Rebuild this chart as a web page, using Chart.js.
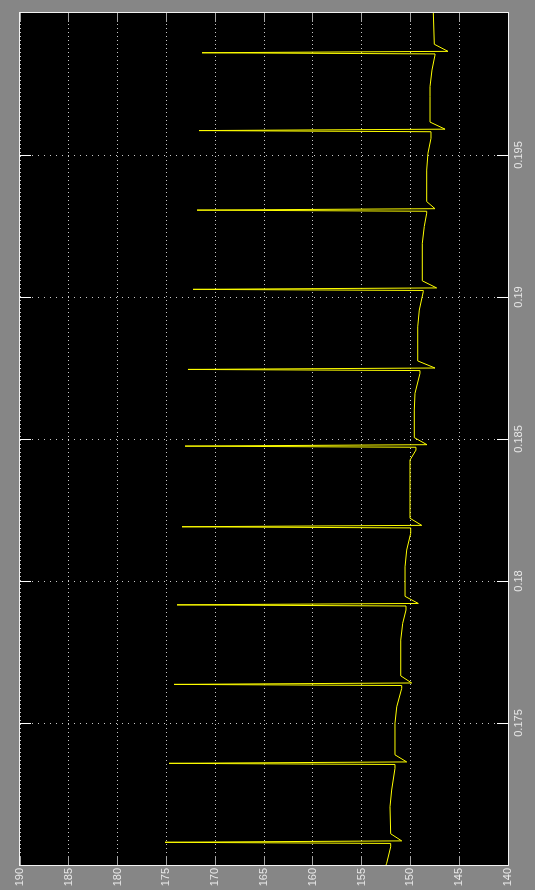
<!DOCTYPE html>
<html>
<head>
<meta charset="utf-8">
<script src="https://cdn.jsdelivr.net/npm/chart.js@4/dist/chart.umd.min.js"></script>
<style>
html,body{margin:0;padding:0;background:#868686;width:535px;height:890px;overflow:hidden}
#wrap{position:absolute;left:0;top:0;width:890px;height:535px;transform-origin:0 0;transform:translate(0,890px) rotate(-90deg)}
canvas{display:block}
</style>
</head>
<body>
<div id="wrap"><canvas id="c" width="890" height="535"></canvas></div>
<script>
// time (s) of each sample
const timeS = [
  0.17000, 0.17006, 0.17064,
  0.17076, 0.17080, 0.17085, 0.17110,
  0.17205, 0.17264, 0.17340,
  0.17354, 0.17358, 0.17363, 0.17388,
  0.17499, 0.17557, 0.17622,
  0.17632, 0.17636, 0.17641, 0.17666,
  0.17792, 0.17851, 0.17898,
  0.17912, 0.17916, 0.17921, 0.17946,
  0.18050, 0.18109, 0.18168,
  0.18187, 0.18191, 0.18196, 0.18221,
  0.18426, 0.18461,
  0.18471, 0.18475, 0.18480, 0.18505,
  0.18602, 0.18661, 0.18731,
  0.18741, 0.18745, 0.18750, 0.18775,
  0.18895, 0.18954, 0.19019,
  0.19023, 0.19027, 0.19032, 0.19057,
  0.19189, 0.19248, 0.19295,
  0.19302, 0.19306, 0.19311, 0.19336,
  0.19447, 0.19506, 0.19559,
  0.19582, 0.19586, 0.19591, 0.19616,
  0.19705, 0.19741, 0.19799, 0.19852,
  0.19856, 0.19860, 0.19865, 0.19890,
  0.20000
];
// signal value of each sample
const signal = [
  152.50, 152.43, 152.02,
  152.02, 175.14, 150.89, 152.02,
  152.09, 151.92, 151.58,
  151.58, 174.73, 150.38, 151.58,
  151.58, 151.40, 150.89,
  150.89, 174.22, 149.87, 150.99,
  150.99, 150.79, 150.45,
  150.45, 173.91, 149.19, 150.55,
  150.55, 150.38, 149.97,
  149.97, 173.40, 148.84, 150.04,
  150.04, 149.43,
  149.43, 173.09, 148.30, 149.60,
  149.60, 149.53, 149.02,
  149.02, 172.79, 147.48, 149.25,
  149.25, 149.09, 148.68,
  148.68, 172.27, 147.31, 148.78,
  148.78, 148.58, 148.33,
  148.33, 171.86, 147.48, 148.33,
  148.33, 148.20, 147.89,
  147.89, 171.66, 146.45, 147.99,
  147.99, 147.99, 147.79, 147.48,
  147.48, 171.35, 146.15, 147.55,
  147.65
];
const timeTicks = [0.175, 0.18, 0.185, 0.19, 0.195];
const timeTickLabels = ['0.175', '0.18', '0.185', '0.19', '0.195'];
const valueTicks = [140, 145, 150, 155, 160, 165, 170, 175, 180, 185, 190];
const valueTickLabels = ['140', '145', '150', '155', '160', '165', '170', '175', '180', '185', '190'];

const alignPx = p => Math.round(p - 0.5) + 0.5;

const scopePlugin = {
  id: 'scope',
  beforeDraw(chart) {
    const {ctx, chartArea: a} = chart;
    ctx.save();
    ctx.fillStyle = '#000000';
    ctx.fillRect(a.left, a.top, a.right - a.left, a.bottom - a.top);
    ctx.restore();
  },
  afterDraw(chart) {
    const {ctx, chartArea: a, scales: {x, y}} = chart;
    ctx.save();
    ctx.lineWidth = 1;
    ctx.setLineDash([]);
    ctx.strokeStyle = '#a4a4a4';
    ctx.beginPath();
    y.ticks.forEach(t => {
      const p = alignPx(y.getPixelForValue(t.value));
      ctx.moveTo(a.left, p); ctx.lineTo(a.left + 9, p);
      ctx.moveTo(a.right - 9, p); ctx.lineTo(a.right, p);
    });
    ctx.stroke();
    ctx.strokeStyle = '#ffffff';
    ctx.beginPath();
    x.ticks.forEach(t => {
      const p = alignPx(x.getPixelForValue(t.value));
      ctx.moveTo(p, a.bottom); ctx.lineTo(p, a.bottom - 11);
      ctx.moveTo(p, a.top); ctx.lineTo(p, a.top + 11);
    });
    ctx.stroke();
    ctx.strokeStyle = '#f2f2f2';
    ctx.strokeRect(a.left - 0.5, a.top - 0.5, a.right - a.left + 1, a.bottom - a.top + 1);
    ctx.restore();
  }
};

const labelFont = {family: '"Liberation Sans Narrow", "Liberation Sans", Arial, sans-serif', size: 11};

new Chart(document.getElementById('c'), {
  type: 'scatter',
  data: {
    datasets: [{
      data: timeS.map((t, i) => ({x: t, y: signal[i]})),
      showLine: true,
      borderColor: '#ffff00',
      borderWidth: 1,
      pointRadius: 0,
      tension: 0
    }]
  },
  options: {
    responsive: false,
    animation: false,
    devicePixelRatio: 1,
    layout: {padding: {top: 20, right: 13, left: 0, bottom: 0}},
    plugins: {legend: {display: false}, tooltip: {enabled: false}, title: {display: false}},
    scales: {
      x: {
        type: 'linear',
        min: 0.17,
        max: 0.2,
        afterBuildTicks: s => { s.ticks = timeTicks.map(v => ({value: v})); },
        afterFit: s => { s.height = 27; },
        ticks: {
          autoSkip: false, maxRotation: 0, minRotation: 0, padding: 4,
          color: '#e8e8e8', font: labelFont,
          callback: (v, i) => timeTickLabels[i]
        },
        grid: {color: '#c8c8c8', lineWidth: 1, drawTicks: false},
        border: {display: false, dash: [1, 5]}
      },
      y: {
        type: 'linear',
        min: 140,
        max: 190,
        afterBuildTicks: s => { s.ticks = valueTicks.map(v => ({value: v})); },
        afterFit: s => { s.width = 25; },
        ticks: {
          autoSkip: false, padding: 3,
          color: '#e8e8e8', font: labelFont,
          callback: (v, i) => valueTickLabels[i]
        },
        grid: {color: '#c8c8c8', lineWidth: 1, drawTicks: false},
        border: {display: false, dash: [1, 3]}
      }
    }
  },
  plugins: [scopePlugin]
});
</script>
</body>
</html>
